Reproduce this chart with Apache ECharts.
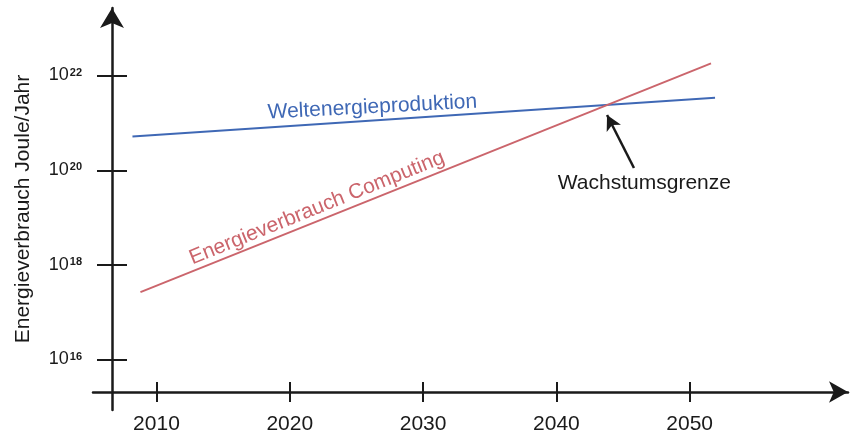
<!DOCTYPE html>
<html>
<head>
<meta charset="utf-8">
<script src="https://cdn.jsdelivr.net/npm/echarts@6/dist/echarts.min.js"></script>
<style>
  html, body { margin: 0; padding: 0; background: #ffffff; }
  #chart { width: 850px; height: 434px; }
</style>
</head>
<body>
<div id="chart"></div>
<script>
// ---- data ----
const productionYears = [2008.2, 2051.9];
const productionValues = [5.2e20, 3.4e21];          // Weltenergieproduktion, J/year
const computingYears = [2008.8, 2051.6];
const computingValues = [2.7e17, 1.8e22];           // Energieverbrauch Computing, J/year
const xTickYears = [2010, 2020, 2030, 2040, 2050];
const yTickExponents = [16, 18, 20, 22];

const productionLabel = 'Weltenergieproduktion';
const computingLabel = 'Energieverbrauch Computing';
const limitLabel = 'Wachstumsgrenze';
const yAxisName = 'Energieverbrauch Joule/Jahr';

// ---- build ----
const yTickValues = yTickExponents.map(e => Math.pow(10, e));
const productionData = productionYears.map((y, i) => [y, productionValues[i]]);
const computingData = computingYears.map((y, i) => [y, computingValues[i]]);

const FONT = '"Liberation Sans", Arial, Helvetica, sans-serif';
const AXIS_COLOR = '#1a1a1a';
const BLUE = '#3f68b5';
const RED = '#cb656c';

const X_MIN = 2005.24, X_MAX = 2061.875;
const Y_MIN = Math.pow(10, 14.9456), Y_MAX = Math.pow(10, 23.4234);

const gridBox = { left: 93, right: 2, top: 8, bottom: 24, outerBoundsMode: 'none', containLabel: false };

const chart = echarts.init(document.getElementById('chart'), null, { renderer: 'canvas' });

const option = {
  animation: false,
  backgroundColor: '#ffffff',
  textStyle: { fontFamily: FONT },
  grid: [Object.assign({}, gridBox), Object.assign({}, gridBox)],
  xAxis: [
    {
      type: 'value', gridIndex: 0, min: X_MIN, max: X_MAX, offset: -18,
      axisLine: { show: true, symbol: ['none', 'arrow'], symbolSize: [16, 19],
        lineStyle: { color: AXIS_COLOR, width: 2.5 } },
      axisTick: { show: true, customValues: xTickYears, inside: false, length: 10,
        lineStyle: { color: AXIS_COLOR, width: 2 } },
      axisLabel: { show: true, customValues: xTickYears, margin: 22, fontSize: 21,
        color: AXIS_COLOR, fontFamily: FONT, formatter: v => String(v) },
      splitLine: { show: false }
    },
    {
      type: 'value', gridIndex: 1, min: X_MIN, max: X_MAX, offset: -18,
      axisLine: { show: false },
      axisTick: { show: true, customValues: xTickYears, inside: true, length: 10,
        lineStyle: { color: AXIS_COLOR, width: 2 } },
      axisLabel: { show: false },
      splitLine: { show: false }
    }
  ],
  yAxis: [
    {
      type: 'log', logBase: 10, gridIndex: 0, min: Y_MIN, max: Y_MAX, offset: -19,
      name: yAxisName, nameLocation: 'middle', nameGap: 78,
      nameTextStyle: { fontSize: 21, color: AXIS_COLOR, fontFamily: FONT },
      axisLine: { show: true, symbol: ['none', 'arrow'], symbolSize: [18, 20],
        lineStyle: { color: AXIS_COLOR, width: 2.5 } },
      axisTick: { show: true, customValues: yTickValues, inside: false, length: 15,
        lineStyle: { color: AXIS_COLOR, width: 2 } },
      axisLabel: {
        show: true, customValues: yTickValues, margin: 30, color: AXIS_COLOR,
        fontFamily: FONT,
        formatter: v => '{b|10}{s|' + Math.round(Math.log10(v)) + '}',
        rich: {
          b: { fontSize: 18, lineHeight: 19, color: AXIS_COLOR, fontFamily: FONT, verticalAlign: 'top' },
          s: { fontSize: 11, lineHeight: 19, fontWeight: 'bold', color: AXIS_COLOR, fontFamily: FONT, verticalAlign: 'top', padding: [1, 0, 0, 1] }
        }
      },
      splitLine: { show: false }
    },
    {
      type: 'log', logBase: 10, gridIndex: 1, min: Y_MIN, max: Y_MAX, offset: -19,
      axisLine: { show: false },
      axisTick: { show: true, customValues: yTickValues, inside: true, length: 15,
        lineStyle: { color: AXIS_COLOR, width: 2 } },
      axisLabel: { show: false },
      splitLine: { show: false }
    }
  ],
  series: [
    {
      name: productionLabel, type: 'line', xAxisIndex: 0, yAxisIndex: 0,
      data: productionData, showSymbol: false, symbol: 'none',
      lineStyle: { color: BLUE, width: 2 }, itemStyle: { color: BLUE },
      z: 3,
      markPoint: {
        silent: true, symbol: 'circle', symbolSize: 0,
        itemStyle: { color: 'rgba(0,0,0,0)' },
        data: [
          { coord: [2026.2, Math.pow(10, 21.33)],
            label: { show: true, position: 'inside', formatter: productionLabel, rotate: 3,
              fontSize: 21, color: BLUE, fontFamily: FONT } },
          { coord: [2046.6, Math.pow(10, 19.722)],
            label: { show: true, position: 'inside', formatter: limitLabel,
              fontSize: 21, color: AXIS_COLOR, fontFamily: FONT } }
        ]
      },
      markLine: {
        silent: true, symbol: ['none', 'arrow'], symbolSize: [12, 15],
        label: { show: false },
        lineStyle: { color: AXIS_COLOR, width: 2.5, type: 'solid' },
        data: [[
          { coord: [2045.82, Math.pow(10, 20.049)] },
          { coord: [2043.8, Math.pow(10, 21.167)] }
        ]]
      }
    },
    {
      name: computingLabel, type: 'line', xAxisIndex: 0, yAxisIndex: 0,
      data: computingData, showSymbol: false, symbol: 'none',
      lineStyle: { color: RED, width: 2 }, itemStyle: { color: RED },
      z: 4,
      markPoint: {
        silent: true, symbol: 'circle', symbolSize: 0,
        itemStyle: { color: 'rgba(0,0,0,0)' },
        data: [
          { coord: [2022.04, Math.pow(10, 19.204)],
            label: { show: true, position: 'inside', formatter: computingLabel, rotate: 22,
              fontSize: 21, color: RED, fontFamily: FONT } }
        ]
      }
    }
  ]
};

chart.setOption(option);
</script>
</body>
</html>
